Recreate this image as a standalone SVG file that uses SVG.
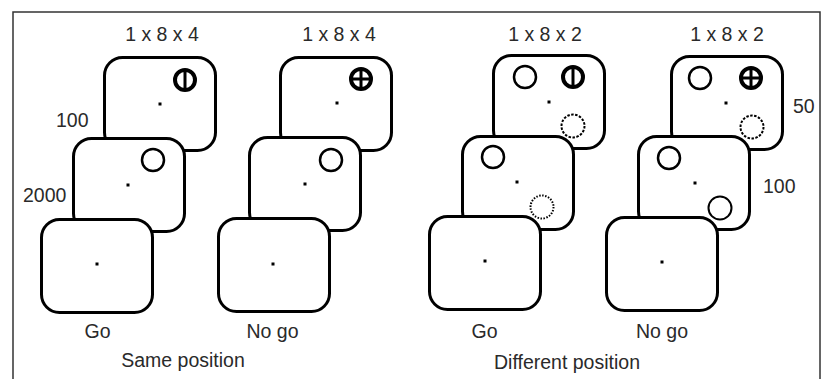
<svg xmlns="http://www.w3.org/2000/svg" width="822" height="379" viewBox="0 0 822 379">
<style>
.card{fill:#fff;stroke:#000;stroke-width:3}
.open{fill:none;stroke:#000;stroke-width:2.5}
.thick{fill:none;stroke:#000;stroke-width:4}
.bar{stroke:#000;stroke-width:3}
.dash{fill:none;stroke:#000;stroke-width:2;stroke-dasharray:2.5 1.5}
.dots{fill:none;stroke:#000;stroke-width:2;stroke-dasharray:1.5 1.5}
.thin{fill:none;stroke:#000;stroke-width:2}
.dot{fill:#000}
text{font-family:"Liberation Sans",Arial,sans-serif;font-size:19.5px;fill:#2a2a2a}
.mid{text-anchor:middle}
</style>
<rect x="13" y="12" width="807" height="380" fill="#fff" stroke="#333" stroke-width="1.5"/>

<g id="same-go">
  <g id="same-go-card1">
    <rect class="card" x="104.5" y="57.5" width="111" height="93" rx="18"/>
    <circle class="thick" cx="185" cy="80" r="10"/>
    <line class="bar" x1="185" y1="71" x2="185" y2="89"/>
    <rect class="dot" x="158.5" y="102.5" width="3" height="3"/>
  </g>
  <g id="same-go-card2">
    <rect class="card" x="73.5" y="138.5" width="111" height="93" rx="18"/>
    <circle class="open" cx="153" cy="160" r="11"/>
    <rect class="dot" x="126.5" y="183.5" width="3" height="3"/>
  </g>
  <g id="same-go-card3">
    <rect class="card" x="41.5" y="219.5" width="111" height="93" rx="18"/>
    <rect class="dot" x="95.5" y="262.5" width="3" height="3"/>
  </g>
  <text class="mid" x="162" y="41">1 x 8 x 4</text>
  <text x="56" y="127">100</text>
  <text x="23" y="202">2000</text>
  <text class="mid" x="97.5" y="338">Go</text>
</g>

<g id="same-nogo">
  <g id="same-nogo-card1">
    <rect class="card" x="280.5" y="57.5" width="111" height="93" rx="18"/>
    <circle class="thick" cx="361" cy="79" r="10"/>
    <line class="bar" x1="361" y1="70" x2="361" y2="88"/>
    <line class="bar" x1="352" y1="79" x2="370" y2="79"/>
    <rect class="dot" x="335.5" y="101.5" width="3" height="3"/>
  </g>
  <g id="same-nogo-card2">
    <rect class="card" x="249.5" y="137.5" width="111" height="93" rx="18"/>
    <circle class="open" cx="331" cy="160" r="11"/>
    <rect class="dot" x="303.5" y="182.5" width="3" height="3"/>
  </g>
  <g id="same-nogo-card3">
    <rect class="card" x="218.5" y="218.5" width="111" height="93" rx="18"/>
    <rect class="dot" x="271.5" y="262.5" width="3" height="3"/>
  </g>
  <text class="mid" x="339" y="41">1 x 8 x 4</text>
  <text class="mid" x="272.5" y="338">No go</text>
</g>

<g id="diff-go">
  <g id="diff-go-card1">
    <rect class="card" x="493.5" y="55.5" width="111" height="93" rx="18"/>
    <circle class="open" cx="525" cy="77" r="11"/>
    <circle class="thick" cx="573" cy="77" r="10"/>
    <line class="bar" x1="573" y1="68" x2="573" y2="86"/>
    <circle class="dash" cx="573" cy="126" r="11.5"/>
    <rect class="dot" x="547.5" y="100.5" width="3" height="3"/>
  </g>
  <g id="diff-go-card2">
    <rect class="card" x="462.5" y="136.5" width="111" height="93" rx="18"/>
    <circle class="open" cx="493" cy="157" r="11"/>
    <circle class="dots" cx="542" cy="207" r="11.5"/>
    <rect class="dot" x="515.5" y="180.5" width="3" height="3"/>
  </g>
  <g id="diff-go-card3">
    <rect class="card" x="429.5" y="216.5" width="111" height="93" rx="18"/>
    <rect class="dot" x="483.5" y="259.5" width="3" height="3"/>
  </g>
  <text class="mid" x="545" y="41">1 x 8 x 2</text>
  <text class="mid" x="484.5" y="338">Go</text>
</g>

<g id="diff-nogo">
  <g id="diff-nogo-card1">
    <rect class="card" x="671.5" y="56.5" width="111" height="93" rx="18"/>
    <circle class="open" cx="700" cy="78" r="11"/>
    <circle class="thick" cx="751" cy="78" r="10"/>
    <line class="bar" x1="751" y1="69" x2="751" y2="87"/>
    <line class="bar" x1="742" y1="78" x2="760" y2="78"/>
    <circle class="dash" cx="752" cy="127" r="11.5"/>
    <rect class="dot" x="724.5" y="101.5" width="3" height="3"/>
  </g>
  <g id="diff-nogo-card2">
    <rect class="card" x="638.5" y="136.5" width="111" height="93" rx="18"/>
    <circle class="open" cx="669" cy="158" r="11"/>
    <circle class="thin" cx="720" cy="208" r="11.5"/>
    <rect class="dot" x="693.5" y="181.5" width="3" height="3"/>
  </g>
  <g id="diff-nogo-card3">
    <rect class="card" x="606.5" y="217.5" width="111" height="93" rx="18"/>
    <rect class="dot" x="660.5" y="260.5" width="3" height="3"/>
  </g>
  <text class="mid" x="727" y="41">1 x 8 x 2</text>
  <text x="793" y="113">50</text>
  <text x="763" y="193">100</text>
  <text class="mid" x="662" y="338">No go</text>
</g>

<text class="mid" x="183" y="367">Same position</text>
<text class="mid" x="567" y="369">Different position</text>
</svg>
